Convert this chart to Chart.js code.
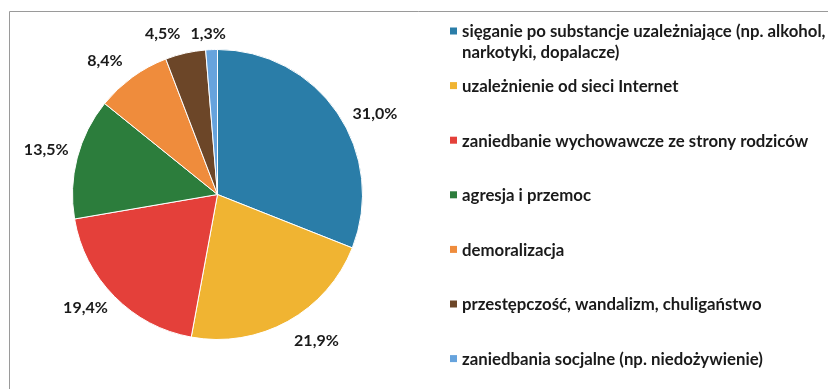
<!DOCTYPE html>
<html lang="pl">
<head>
<meta charset="utf-8">
<title>Przyczyny zagrożeń</title>
<script src="https://cdn.jsdelivr.net/npm/chart.js@4"></script>
<style>
  html, body { margin: 0; padding: 0; background: #fff; }
  canvas { display: block; }
</style>
</head>
<body>
<canvas id="pie" width="828" height="389"></canvas>
<script>
// categories (first one wraps onto two lines in the legend)
const categories = [
  ['sięganie po substancje uzależniające (np. alkohol,', 'narkotyki, dopalacze)'],
  'uzależnienie od sieci Internet',
  'zaniedbanie wychowawcze ze strony rodziców',
  'agresja i przemoc',
  'demoralizacja',
  'przestępczość, wandalizm, chuligaństwo',
  'zaniedbania socjalne (np. niedożywienie)'
];
const shares = [31.0, 21.9, 19.4, 13.5, 8.4, 4.5, 1.3];
const colors = ['#2a7da8', '#f0b432', '#e4403a', '#2c7d3c', '#ef8c3c', '#6c4628', '#66a3dd'];

// small angle tweaks (degrees) so the labels at the top don't collide
const labelShift = [7, -5, 4, 0, -4, -6, -1];
const labelDist = [177, 177, 174, 177, 175, 170, 161];

const fmt = v => v.toFixed(1).replace('.', ',') + '%';
const FONT = 'Lato, "Open Sans", sans-serif';

const framePlugin = {
  id: 'frame',
  beforeDraw(chart) {
    const ctx = chart.ctx;
    ctx.save();
    ctx.strokeStyle = '#9a9a9a';
    ctx.lineWidth = 1;
    ctx.beginPath();
    ctx.moveTo(9.5, 389);
    ctx.lineTo(9.5, 11.5);
    ctx.lineTo(828, 11.5);
    ctx.stroke();
    ctx.restore();
  }
};

const labelsPlugin = {
  id: 'outsideLabels',
  afterDatasetsDraw(chart) {
    const ctx = chart.ctx;
    const meta = chart.getDatasetMeta(0);
    ctx.save();
    ctx.font = 'bold 16px ' + FONT;
    ctx.fillStyle = '#1a1a1a';
    ctx.textAlign = 'center';
    ctx.textBaseline = 'middle';
    meta.data.forEach((arc, i) => {
      const mid = (arc.startAngle + arc.endAngle) / 2 + labelShift[i] * Math.PI / 180;
      const x = arc.x + Math.cos(mid) * labelDist[i];
      const y = arc.y + Math.sin(mid) * labelDist[i];
      ctx.fillText(fmt(shares[i]), x, y);
    });
    ctx.restore();
  }
};

const legendPlugin = {
  id: 'sideLegend',
  afterDraw(chart) {
    const ctx = chart.ctx;
    ctx.save();
    ctx.font = 'bold 16.8px ' + FONT;
    ctx.textBaseline = 'middle';
    chart.data.labels.forEach((label, i) => {
      const y = 31 + i * 54.6;
      ctx.fillStyle = colors[i];
      ctx.fillRect(450, y - 3.5, 7, 7);
      ctx.fillStyle = '#1a1a1a';
      const lines = Array.isArray(label) ? label : [label];
      lines.forEach((t, k) => ctx.fillText(t, 462, y + 1 + k * 21));
    });
    ctx.restore();
  }
};

new Chart(document.getElementById('pie'), {
  type: 'pie',
  data: {
    labels: categories,
    datasets: [{
      data: shares,
      backgroundColor: colors,
      borderColor: '#ffffff',
      borderWidth: 1
    }]
  },
  options: {
    responsive: false,
    animation: false,
    layout: { padding: { left: 72, right: 465, top: 49, bottom: 49 } },
    plugins: {
      legend: { display: false },
      tooltip: { enabled: false }
    }
  },
  plugins: [framePlugin, labelsPlugin, legendPlugin]
});
</script>
</body>
</html>
